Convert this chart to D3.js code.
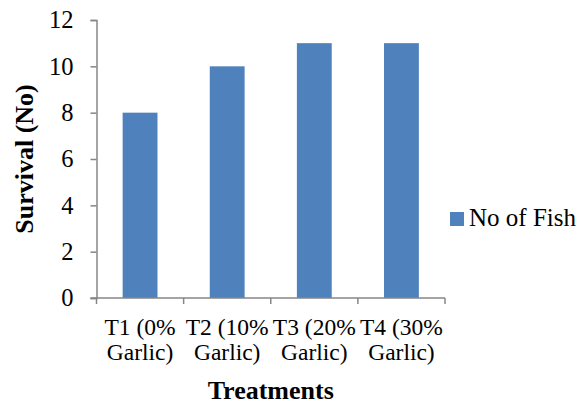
<!DOCTYPE html>
<html>
<head>
<meta charset="utf-8">
<script src="https://cdn.jsdelivr.net/npm/d3@7"></script>
<style>
  html, body { margin: 0; padding: 0; background: #ffffff; }
  svg { display: block; }
  svg text { font-family: "Liberation Serif", Tinos, "Times New Roman", "DejaVu Serif", serif !important; fill: #000; }
</style>
</head>
<body>
<svg id="chart" width="584" height="404"></svg>
<script>
// Survival counts per garlic treatment
const categoryLine1 = ["T1 (0%", "T2 (10%", "T3 (20%", "T4 (30%"];
const categoryLine2 = ["Garlic)", "Garlic)", "Garlic)", "Garlic)"];
const categories = ["T1", "T2", "T3", "T4"];
const noOfFish = [8, 10, 11, 11];
const yTicks = [0, 2, 4, 6, 8, 10, 12];
const seriesName = "No of Fish";
const xTitle = "Treatments";
const yTitle = "Survival (No)";

const svg = d3.select("#chart");
const margin = { left: 96.5, right: 139, top: 20, bottom: 106 };
const W = 584, H = 404;
const axisColor = "#868686";
const barColor = "#4F81BD";

const x = d3.scaleBand()
  .domain(categories)
  .range([margin.left, W - margin.right])
  .paddingInner(0.6)
  .paddingOuter(0.3);

const y = d3.scaleLinear()
  .domain([0, 12])
  .range([H - margin.bottom, margin.top]);

// Bars
svg.append("g")
  .selectAll("rect")
  .data(noOfFish)
  .join("rect")
  .attr("x", (d, i) => x(categories[i]))
  .attr("y", d => y(d))
  .attr("width", x.bandwidth())
  .attr("height", d => y(0) - y(d))
  .attr("fill", barColor);

// Y axis
const yAxis = svg.append("g")
  .attr("transform", `translate(${margin.left},0)`)
  .call(d3.axisLeft(y).tickValues(yTicks).tickSize(6).tickPadding(17).tickFormat(d3.format("d")));
yAxis.attr("font-family", null).attr("font-size", null);
yAxis.select(".domain").attr("stroke", axisColor).attr("stroke-width", 1.5);
yAxis.selectAll(".tick line").attr("stroke", axisColor).attr("stroke-width", 1.5);
yAxis.selectAll(".tick text")
  .attr("font-size", 24.5)
  .attr("fill", "#000");

// X axis: ticks at category boundaries
const step = x.step();
const boundaries = d3.range(categories.length + 1).map(i => margin.left + i * step);
const xg = svg.append("g");
xg.append("line")
  .attr("x1", margin.left - 6).attr("x2", W - margin.right)
  .attr("y1", y(0)).attr("y2", y(0))
  .attr("stroke", axisColor).attr("stroke-width", 1.5);
xg.selectAll("line.tk")
  .data(boundaries)
  .join("line")
  .attr("class", "tk")
  .attr("x1", d => d).attr("x2", d => d)
  .attr("y1", y(0)).attr("y2", y(0) + 6)
  .attr("stroke", axisColor).attr("stroke-width", 1.5);

// Category labels (two lines)
const lbl = xg.selectAll("text.cat")
  .data(categories)
  .join("text")
  .attr("class", "cat")
  .attr("text-anchor", "middle")
  .attr("font-size", 23.5);
lbl.append("tspan")
  .attr("x", d => x(d) + x.bandwidth() / 2)
  .attr("y", y(0) + 37)
  .text((d, i) => categoryLine1[i]);
lbl.append("tspan")
  .attr("x", d => x(d) + x.bandwidth() / 2)
  .attr("y", y(0) + 62)
  .text((d, i) => categoryLine2[i]);

// Axis titles
svg.append("text")
  .attr("x", (margin.left + W - margin.right) / 2)
  .attr("y", 399)
  .attr("text-anchor", "middle")
  .attr("font-size", 26)
  .attr("font-weight", "bold")
  .text(xTitle);

svg.append("text")
  .attr("transform", `translate(33,${(margin.top + H - margin.bottom) / 2}) rotate(-90)`)
  .attr("text-anchor", "middle")
  .attr("font-size", 26)
  .attr("font-weight", "bold")
  .text(yTitle);

// Legend
const lg = svg.append("g");
lg.append("rect")
  .attr("x", 450).attr("y", 212)
  .attr("width", 14).attr("height", 14)
  .attr("fill", barColor);
lg.append("text")
  .attr("x", 469).attr("y", 226)
  .attr("font-size", 25)
  .text(seriesName);
</script>
</body>
</html>
